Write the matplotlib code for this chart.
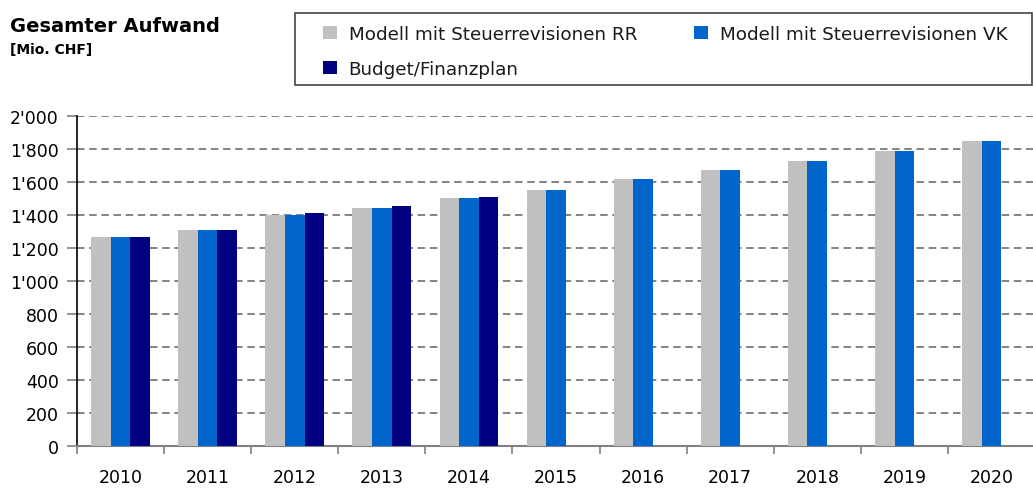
import numpy as np
import matplotlib
matplotlib.use("Agg")
import matplotlib.pyplot as plt
import matplotlib.patches as patches
from matplotlib.ticker import FuncFormatter

# ============================
# DATA
# ============================
years = ["2010", "2011", "2012", "2013", "2014", "2015",
         "2016", "2017", "2018", "2019", "2020"]
modell_rr = [1267, 1309, 1400, 1444, 1505, 1553, 1620, 1673, 1727, 1790, 1850]
modell_vk = [1267, 1309, 1400, 1444, 1505, 1553, 1620, 1673, 1727, 1790, 1850]
budget = [1267, 1309, 1413, 1457, 1511, None, None, None, None, None, None]

labels = ["Modell mit Steuerrevisionen RR",
          "Modell mit Steuerrevisionen VK",
          "Budget/Finanzplan"]
colors = ["#C0C0C0", "#0066CC", "#000080"]

# ============================
# FIGURE
# ============================
W, H = 1033, 489
fig = plt.figure(figsize=(W / 100, H / 100), dpi=100)
plt.rcParams["font.family"] = ["DejaVu Sans"]

ax = fig.add_axes([77 / W, 42 / H, (1035 - 77) / W, 330 / H])

x = np.arange(len(years))
bw = 0.225
b1 = ax.bar(x - bw, modell_rr, bw, color=colors[0], zorder=3)
b2 = ax.bar(x, modell_vk, bw, color=colors[1], zorder=3)
bx = [i for i, v in enumerate(budget) if v is not None]
b3 = ax.bar(np.array(bx) + bw, [budget[i] for i in bx], bw,
            color=colors[2], zorder=3)

ax.set_xlim(-0.5, len(years) - 0.5)
ax.set_ylim(0, 2000)
ax.set_yticks(np.arange(0, 2001, 200))
ax.yaxis.set_major_formatter(
    FuncFormatter(lambda v, p: f"{int(v):,}".replace(",", "'")))

# category ticks at boundaries, labels centered
ax.set_xticks(np.arange(-0.5, len(years), 1.0))
ax.set_xticklabels([])
ax.set_xticks(x, minor=True)
ax.set_xticklabels(years, minor=True, fontsize=12.5)
ax.tick_params(axis="x", which="major", length=6, color="#808080", width=1.2)
ax.tick_params(axis="x", which="minor", length=0, pad=16)
ax.tick_params(axis="y", length=7, color="#808080", width=1.2,
               labelsize=12.5, pad=6)

ax.grid(axis="y", color="#6E6E6E", linestyle=(0, (4.5, 2.8)), lw=1.2, zorder=1)
ax.set_axisbelow(True)

for s in ["top", "right"]:
    ax.spines[s].set_visible(False)
ax.spines["left"].set_color("black")
ax.spines["left"].set_linewidth(1.2)
ax.spines["bottom"].set_color("#808080")
ax.spines["bottom"].set_linewidth(1.5)

# ============================
# TITLES
# ============================
fig.text(10 / W, 1 - 27 / H, "Gesamter Aufwand", fontsize=14,
         fontweight="bold", va="center", ha="left")
fig.text(10 / W, 1 - 50 / H, "[Mio. CHF]", fontsize=10,
         fontweight="bold", va="center", ha="left")

# ============================
# LEGEND
# ============================
fig.patches.append(patches.Rectangle(
    (295 / W, 1 - 86 / H), (1032 - 295) / W, 72 / H,
    transform=fig.transFigure, fill=False, edgecolor="#444444", lw=1.2))

# column-wise fill: RR, Budget in first column, VK in second
leg = fig.legend([b1, b3, b2], [labels[0], labels[2], labels[1]], ncol=2,
                 frameon=False, loc="upper left",
                 bbox_to_anchor=(306 / W, 1 - 9 / H),
                 fontsize=13.2, handlelength=0.77, handleheight=0.72,
                 handletextpad=0.65, columnspacing=3.1, labelspacing=0.97)
for t in leg.get_texts():
    t.set_color("#1A1A1A")

fig.savefig("out.png", dpi=100)
